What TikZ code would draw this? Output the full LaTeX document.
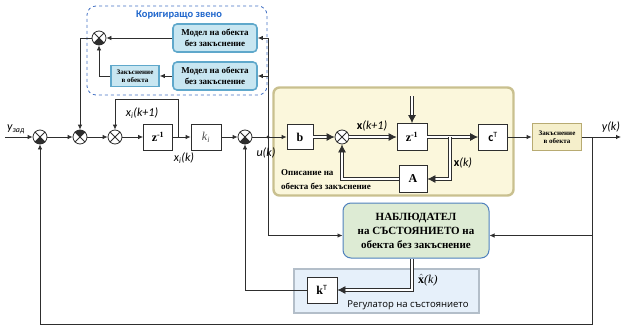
\documentclass[tikz,border=0pt]{standalone}
\usepackage{fontspec}
\setmainfont{Liberation Serif}
\newfontfamily\lblfont{Carlito}
\newfontfamily\regfont{Open Sans}
\usetikzlibrary{arrows.meta}
\definecolor{ln}{HTML}{2E2E2E}
\definecolor{ttlblue}{HTML}{1F66CC}
\definecolor{dashblue}{HTML}{4472C4}
\definecolor{plantfill}{HTML}{FBF7DC}
\definecolor{plantdraw}{HTML}{C9C08F}
\definecolor{modfill}{HTML}{C8E6F1}
\definecolor{moddraw}{HTML}{5FA8CB}
\definecolor{obsfill}{HTML}{DDEBD4}
\definecolor{obsdraw}{HTML}{4F81BD}
\definecolor{regfill}{HTML}{E6F0FA}
\definecolor{regdraw}{HTML}{B3BEC9}
\definecolor{dlyfill}{HTML}{F5EFCB}
\definecolor{dlydraw}{HTML}{B8AB72}
\newcommand\quadfill[2]{\fill[ln] (#1.center) \foreach \a in {-45,-35,...,45} {-- +({#2+\a}:7pt)} -- cycle;}
\newcommand\crossit[1]{\draw[ln,line width=0.8pt] (#1.45)--(#1.-135) (#1.135)--(#1.-45);}
\begin{document}
\begin{tikzpicture}[x=1pt,y=-1pt,
  sig/.style={draw=ln,line width=0.8pt,-{Latex[length=5pt,width=4.5pt]}},
  plain/.style={draw=ln,line width=0.8pt},
  vec/.style={draw=ln,double=white,double distance=1.8pt,line width=0.8pt,-{Latex[length=8pt,width=8pt]}},
  blk/.style={draw=ln,line width=0.8pt,fill=white,inner sep=0pt},
  sumc/.style={circle,draw=ln,line width=0.8pt,fill=white,minimum size=14pt,inner sep=0pt},
  modbox/.style={draw=moddraw,line width=1.6pt,fill=modfill,rounded corners=4pt,minimum width=84pt,minimum height=28pt,align=center,inner sep=0pt,font=\bfseries\fontsize{9}{10.5}\selectfont},
  lbl/.style={font=\lblfont\itshape\fontsize{12}{13}\selectfont,inner sep=0pt},
  boxtxt/.style={font=\bfseries\fontsize{12}{13}\selectfont}]
\useasboundingbox (0,0) rectangle (624,327);
% backgrounds
\node[draw=dashblue,dashed,line width=0.8pt,rounded corners=9pt,minimum width=180pt,minimum height=89pt] (corr) at (177,50.5) {};
\node[font=\lblfont\bfseries\fontsize{10.5}{12}\selectfont,text=ttlblue] (ttl) at (179,15) {Коригиращо звено};
\node[draw=plantdraw,line width=2.4pt,fill=plantfill,rounded corners=6pt,minimum width=240pt,minimum height=108pt] (plant) at (393.5,141.5) {};
\node[draw=regdraw,line width=2pt,fill=regfill,minimum width=185pt,minimum height=44pt] (reg) at (386,290.5) {};
% left chain
\coordinate (yin) at (5,137);
\node[sumc] (s1) at (40,137) {}; \crossit{s1} \quadfill{s1}{-90}
\node[sumc] (s2) at (80,137) {}; \crossit{s2} \quadfill{s2}{90}
\node[sumc] (s3) at (115,137) {}; \crossit{s3}
\node[blk,minimum width=29pt,minimum height=26pt,boxtxt] (zi) at (158,137) {z\textsuperscript{-1}};
\node[blk,minimum width=30pt,minimum height=26pt,font=\itshape\fontsize{12}{13}\selectfont,text=black!70] (ki) at (206,137) {k\textsubscript{i}};
\node[sumc] (s4) at (245,137) {}; \crossit{s4} \quadfill{s4}{-90}
\coordinate (br1) at (178,137);
\coordinate (fb1) at (178,99);
\coordinate (J1) at (268,137);
\coordinate (jtop) at (268,38);
% correcting link
\node[sumc] (s5) at (99,38) {}; \crossit{s5} \quadfill{s5}{-90}
\node[modbox] (M1) at (215,38) {Модел на обекта\\без закъснение};
\node[modbox] (M2) at (215,76) {Модел на обекта\\без закъснение};
\node[draw=moddraw,line width=1.6pt,fill=modfill,minimum width=48pt,minimum height=21pt,align=center,inner sep=0pt,font=\bfseries\fontsize{7}{8}\selectfont] (D1) at (135,76) {Закъснение\\в обекта};
% plant
\node[blk,minimum width=26pt,minimum height=25pt,boxtxt] (b) at (300,137) {b};
\node[sumc] (s6) at (342,137) {}; \crossit{s6}
\node[blk,minimum width=30pt,minimum height=27pt,boxtxt] (z) at (412,137) {z\textsuperscript{-1}};
\node[blk,minimum width=29pt,minimum height=26pt,font=\lblfont\fontsize{12}{13}\selectfont] (cT) at (493,137) {\textbf{c}\textsuperscript{\fontsize{8}{9}\selectfont T}};
\node[blk,minimum width=28pt,minimum height=27pt,boxtxt] (A) at (413,179) {A};
\coordinate (br2) at (450,137);
\coordinate (ztop) at (412,96);
\node[anchor=north west,align=left,inner sep=0pt,font=\bfseries\fontsize{9}{14}\selectfont] (pl) at (281,169) {Описание на\\обекта без закъснение};
% output side
\node[draw=dlydraw,line width=1.8pt,fill=dlyfill,minimum width=49pt,minimum height=27pt,align=center,inner sep=0pt,font=\bfseries\fontsize{7}{8}\selectfont] (D2) at (557,137) {Закъснение\\в обекта};
\coordinate (ybr) at (592,137);
\coordinate (yout) at (621,137);
\coordinate (ybot) at (592,324);
% observer and regulator
\node[draw=obsdraw,line width=1pt,fill=obsfill,rounded corners=8pt,minimum width=146pt,minimum height=55pt,align=center,font=\bfseries\fontsize{11}{14}\selectfont] (obs) at (416,230.5) {НАБЛЮДАТЕЛ\\на СЪСТОЯНИЕТО на\\обекта без закъснение};
\node[blk,minimum width=30pt,minimum height=26pt,font=\fontsize{12}{13}\selectfont] (kT) at (322,290) {\textbf{k}\textsuperscript{\lblfont\fontsize{8}{9}\selectfont T}};
\node[font=\regfont\fontsize{9.5}{11}\selectfont,inner sep=0pt] (regt) at (408,305) {Регулатор на състоянието};
% connectors
\draw[sig] (yin) -- (s1);
\draw[sig] (s1) -- (s2);
\draw[sig] (s2) -- (s3);
\draw[sig] (s3) -- (zi);
\draw[sig] (zi) -- (ki);
\draw[sig] (br1) -- (fb1) -| (s3.north);
\draw[sig] (ki) -- (s4);
\draw[sig] (s4) -- (b);
\fill[ln] (J1) circle (1.6pt);
\draw[plain] (J1) -- (jtop);
\draw[sig] (jtop) -- (M1.east);
\draw[sig] (jtop |- M2) -- (M2.east);
\draw[sig] (M1) -- (s5);
\draw[sig] (M2) -- (D1);
\draw[sig] (D1.west) -| (s5.south);
\draw[sig] (s5.west) -| (s2.north);
\draw[vec] (b) -- (s6);
\draw[vec] (s6) -- (z);
\draw[vec] (z) -- (cT);
\draw[vec] (br2) |- (A.east);
\draw[vec] (A.west) -| (s6.south);
\draw[vec] (ztop) -- (z.north);
\draw[sig] (cT) -- (D2);
\draw[sig] (D2) -- (yout);
\draw[sig] (J1) |- ([yshift=-5pt]obs.west);
\draw[sig] (ybr) |- ([yshift=-5pt]obs.east);
\draw[sig] (ybr) -- (ybot) -| (s1.south);
\draw[vec] ([xshift=-4pt]obs.south) |- (kT.east);
\draw[sig] (kT.west) -| (s4.south);
% labels
\node[lbl,anchor=south west] (lyz) at (7,134) {y\textsubscript{зад}};
\node[lbl] (lxi1) at (142,113) {x\textsubscript{i}(k+1)};
\node[lbl] (lxi) at (184,158) {x\textsubscript{i}(k)};
\node[lbl] (lu) at (266,153) {u(k)};
\node[lbl] (lx1) at (372,126) {\upshape\bfseries x\mdseries\itshape(k+1)};
\node[lbl] (lxk) at (463,163) {\upshape\bfseries x\mdseries\itshape(k)};
\node[lbl] (ly) at (611,127) {y(k)};
\node[font=\fontsize{12}{13}\selectfont,inner sep=0pt,anchor=west] (lxh) at (418,280) {$\hat{\mathbf{x}}$\textit{(k)}};
\end{tikzpicture}
\end{document}
